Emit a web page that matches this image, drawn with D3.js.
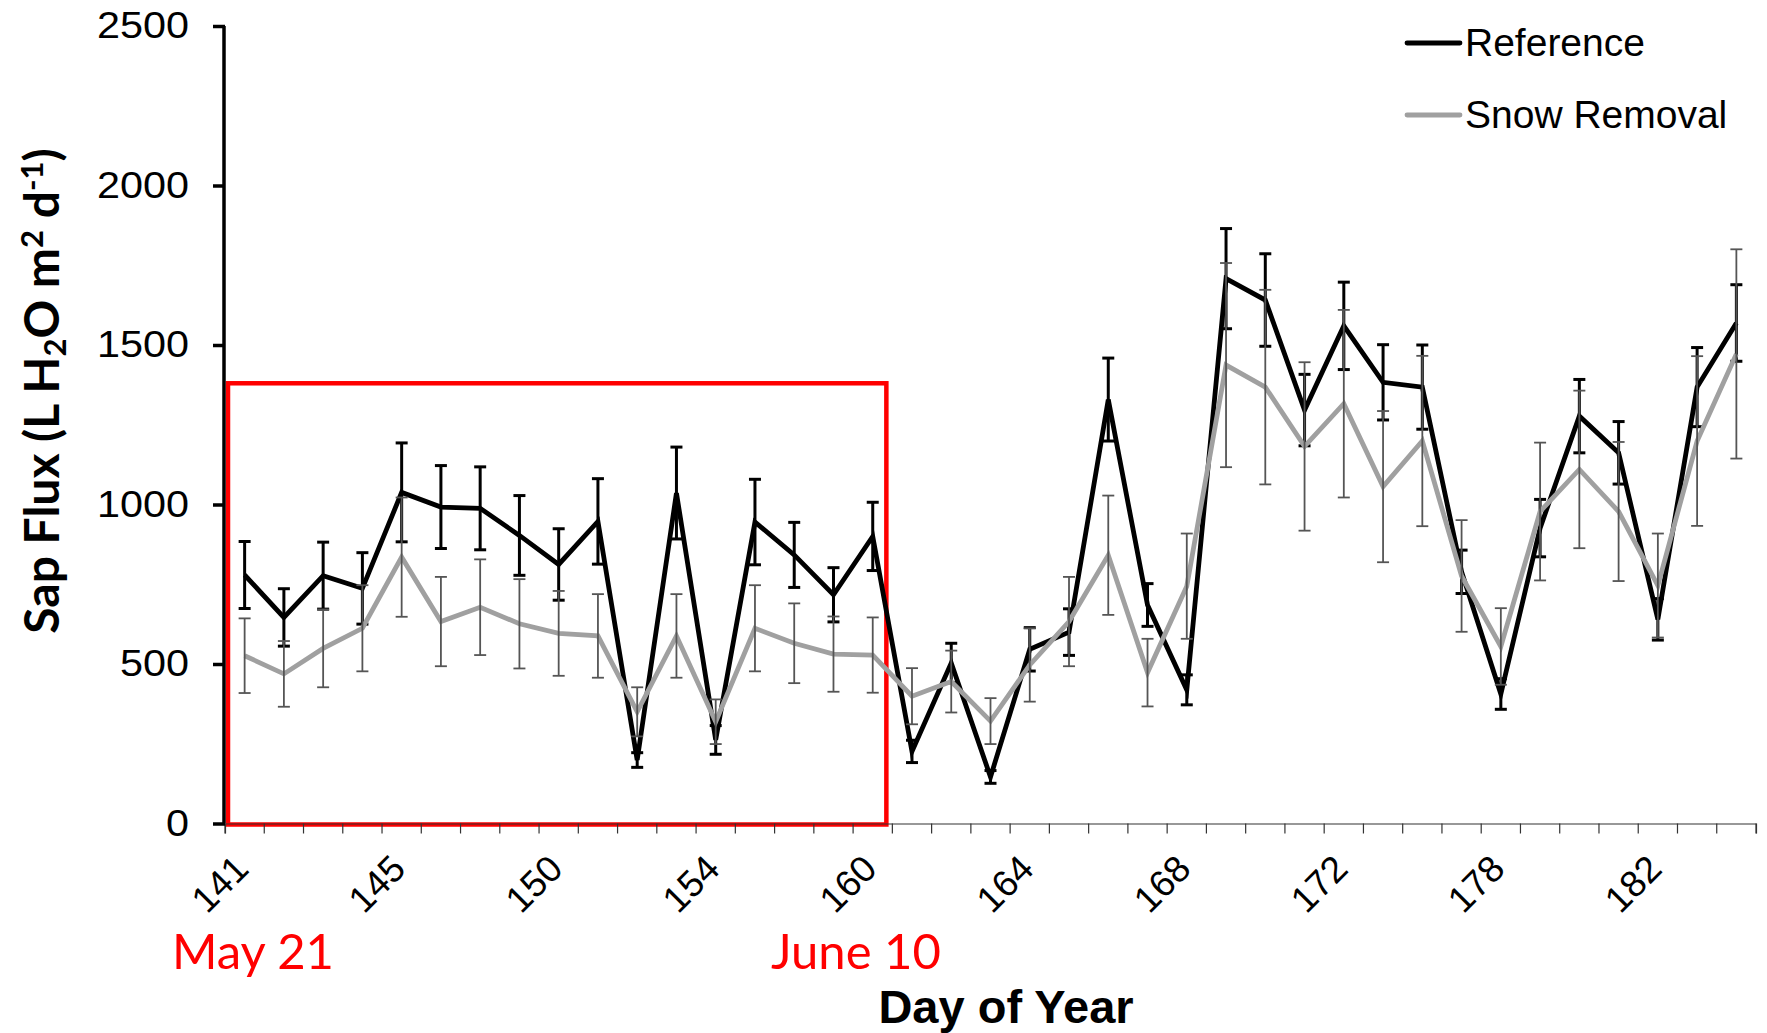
<!DOCTYPE html>
<html>
<head>
<meta charset="utf-8">
<script src="https://cdn.jsdelivr.net/npm/d3@7"></script>
<style>
  html, body { margin: 0; padding: 0; background: #fff; }
  svg { display: block; }
</style>
</head>
<body>
<svg id="chart" width="1767" height="1033"></svg>
<script>
// ---- data ----
const days = [141,142,143,144,145,146,147,148,150,151,152,153,154,156,157,159,160,
              161,162,163,164,165,166,167,168,169,170,171,172,174,175,177,178,
              179,180,181,182,183,184];
const shownDays = [141,145,150,154,160,164,168,172,178,182];
const referenceValues = [779,646,777,737,1038,992,988,903,812,947,199,1036,262,945,842,717,900,
                         226,503,146,546,600,1329,685,419,1708,1641,1296,1560,1383,1368,789,406,
                         926,1277,1162,640,1368,1569];
const referenceErr = [105,90,105,112,155,130,130,125,112,134,23,144,45,134,102,85,107,
                      35,62,20,68,73,130,67,47,157,145,112,137,118,132,68,48,
                      90,115,98,65,124,120];
const snowValues = [526,469,549,612,835,633,678,626,596,588,350,588,319,612,565,531,528,
                    399,445,321,497,633,841,473,744,1437,1368,1182,1316,1056,1199,776,555,
                    978,1110,978,746,1199,1472];
const snowErr = [117,103,122,135,187,140,150,140,133,131,77,131,70,135,125,118,118,
                 88,97,72,115,140,187,106,165,320,305,264,294,237,267,175,120,
                 216,247,218,163,266,328];
const yTicks = [0,500,1000,1500,2000,2500];
const boxStartDay = 141, boxEndDay = 160, boxTop = 1380;
const seriesNames = ["Reference", "Snow Removal"];

// ---- layout ----
const svg = d3.select("#chart");
const x = d3.scaleBand().domain(days).range([225, 1756]).paddingInner(0).paddingOuter(0);
const y = d3.scaleLinear().domain([0, 2500]).range([823.5, 26]);
const cx = d => x(d) + x.bandwidth() / 2;

// red highlight box (drawn beneath data)
svg.append("rect")
  .attr("x", x(boxStartDay) + 3)
  .attr("y", y(boxTop))
  .attr("width", x(boxEndDay) + x.bandwidth() - 6 - (x(boxStartDay) + 3))
  .attr("height", y(0) + 1 - y(boxTop))
  .attr("fill", "none")
  .attr("stroke", "#ff0000")
  .attr("stroke-width", 4.5);

// x axis
const xAxis = d3.axisBottom(x).tickSize(10).tickFormat(d => shownDays.includes(d) ? d : "");
const gx = svg.append("g").attr("transform", `translate(0,${y(0)})`).call(xAxis);
gx.select(".domain").attr("stroke", "#333").attr("stroke-width", 1.2);
gx.selectAll(".tick line").remove();
gx.selectAll(".tick text").remove();
const bounds = days.map(d => x(d)).concat([x(days[days.length - 1]) + x.bandwidth()]);
gx.selectAll("line.bt").data(bounds).enter().append("line")
  .attr("class", "bt")
  .attr("x1", d => d).attr("x2", d => d)
  .attr("y1", 0).attr("y2", 10)
  .attr("stroke", "#333").attr("stroke-width", 1.2);
svg.append("g").selectAll("text").data(shownDays).enter().append("text")
  .attr("transform", d => `translate(${cx(d) + 6},871) rotate(-45)`)
  .attr("text-anchor", "end")
  .attr("font-family", "'Liberation Sans', Arial, sans-serif")
  .attr("font-size", 37)
  .attr("fill", "#000")
  .text(d => d);

// y axis
const yAxis = d3.axisLeft(y).tickValues(yTicks).tickSize(12).tickPadding(24).tickFormat(d3.format("d"));
const gy = svg.append("g").attr("transform", `translate(225,0)`).call(yAxis);
gy.select(".domain").attr("stroke", "#000").attr("stroke-width", 3.5).attr("d", `M-1,${y(2500)}V${y(0)}`);
gy.selectAll(".tick line").attr("stroke", "#000").attr("stroke-width", 3.5);
gy.selectAll(".tick text")
  .attr("font-family", "'Liberation Sans', Arial, sans-serif")
  .attr("font-size", 37)
  .attr("fill", "#000")
  .attr("textLength", function() { return this.textContent.length * 23; })
  .attr("lengthAdjust", "spacingAndGlyphs");

// series drawing
const line = d3.line().x((v, i) => cx(days[i])).y(v => y(v));

function errorBars(vals, errs, color, width, cap) {
  const g = svg.append("g").attr("stroke", color).attr("stroke-width", width).attr("fill", "none");
  vals.forEach((v, i) => {
    const px = cx(days[i]);
    const top = y(v + errs[i]), bot = y(v - errs[i]);
    g.append("line").attr("x1", px).attr("x2", px).attr("y1", top).attr("y2", bot);
    g.append("line").attr("x1", px - cap).attr("x2", px + cap).attr("y1", top).attr("y2", top);
    g.append("line").attr("x1", px - cap).attr("x2", px + cap).attr("y1", bot).attr("y2", bot);
  });
}

svg.append("path").datum(referenceValues)
  .attr("d", line).attr("fill", "none").attr("stroke", "#000").attr("stroke-width", 4.8)
  .attr("stroke-linejoin", "miter");
errorBars(referenceValues, referenceErr, "#000", 3, 6);
svg.append("path").datum(snowValues)
  .attr("d", line).attr("fill", "none").attr("stroke", "#a0a0a0").attr("stroke-width", 4.8)
  .attr("stroke-linejoin", "miter");
errorBars(snowValues, snowErr, "#555", 1.8, 6);

// legend
const legend = svg.append("g");
const legColors = ["#000", "#a0a0a0"];
seriesNames.forEach((name, i) => {
  const ly = 43 + i * 72;
  legend.append("line").attr("x1", 1407).attr("x2", 1460).attr("y1", ly).attr("y2", ly)
    .attr("stroke", legColors[i]).attr("stroke-width", 4.8).attr("stroke-linecap", "round");
  legend.append("text").attr("x", 1465).attr("y", ly + 13)
    .attr("font-family", "'Liberation Sans', Arial, sans-serif")
    .attr("font-size", 39).attr("fill", "#000").text(name);
});

// y axis title
const yt = svg.append("text")
  .attr("transform", "translate(42,391) rotate(-90)")
  .attr("text-anchor", "middle")
  .attr("dy", "0.35em")
  .attr("font-family", "Lato, 'Open Sans', sans-serif")
  .attr("font-weight", 700)
  .attr("font-size", 48)
  .attr("fill", "#000");
yt.append("tspan").text("Sap Flux (L H");
yt.append("tspan").attr("font-size", 31).attr("baseline-shift", "-7").text("2");
yt.append("tspan").text("O m");
yt.append("tspan").attr("font-size", 31).attr("baseline-shift", "16").text("2");
yt.append("tspan").text(" d");
yt.append("tspan").attr("font-size", 31).attr("baseline-shift", "16").text("-1");
yt.append("tspan").text(")");

// x axis title
svg.append("text")
  .attr("x", 1006).attr("y", 1023)
  .attr("text-anchor", "middle")
  .attr("font-family", "'Liberation Sans', Arial, sans-serif")
  .attr("font-weight", 700)
  .attr("font-size", 47)
  .attr("fill", "#000")
  .text("Day of Year");

// red date annotations
svg.append("text").attr("x", 172).attr("y", 969)
  .attr("font-family", "Lato, sans-serif").attr("font-size", 49).attr("fill", "#ff0000")
  .text("May 21");
svg.append("text").attr("x", 771).attr("y", 969)
  .attr("font-family", "Lato, sans-serif").attr("font-size", 49).attr("fill", "#ff0000")
  .text("June 10");
</script>
</body>
</html>
